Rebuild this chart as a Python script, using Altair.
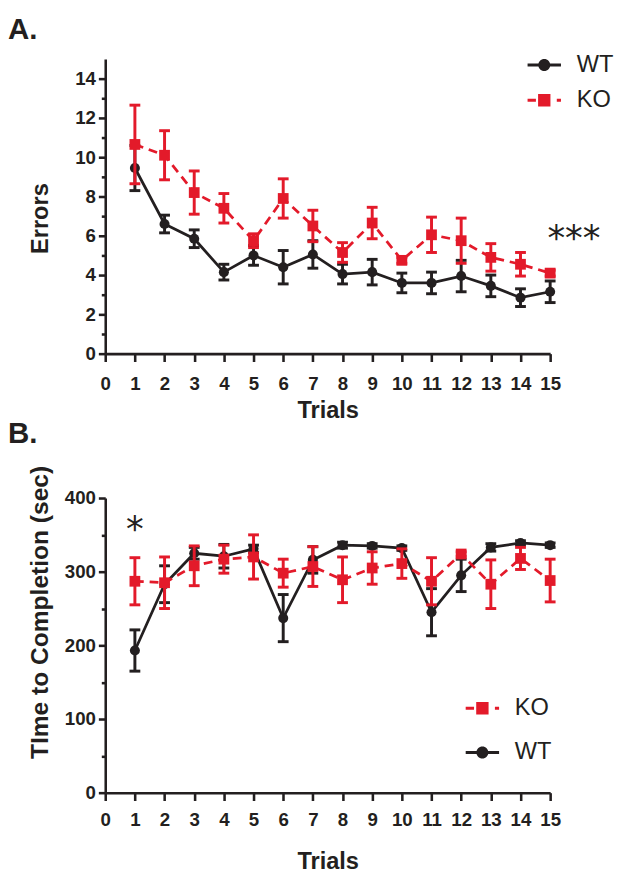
import altair as alt
import pandas as pd

# ---------------- data ----------------
trials = list(range(1, 16))

# Panel A: Errors (mean, SEM)
err_wt_mean = [9.45, 6.6, 5.85, 4.15, 5.0, 4.4, 5.05, 4.05, 4.15, 3.6, 3.6, 3.95, 3.45, 2.85, 3.15]
err_wt_sem = [1.15, 0.45, 0.45, 0.4, 0.5, 0.85, 0.7, 0.5, 0.65, 0.5, 0.55, 0.8, 0.55, 0.45, 0.55]
err_ko_mean = [10.65, 10.1, 8.2, 7.4, 5.75, 7.9, 6.5, 5.15, 6.65, 4.75, 6.05, 5.75, 4.9, 4.55, 4.1]
err_ko_sem = [2.0, 1.25, 1.1, 0.75, 0.35, 1.0, 0.8, 0.5, 0.8, 0.15, 0.9, 1.15, 0.7, 0.6, 0.15]

# Panel B: Time to completion (sec)
time_wt_mean = [193, 283, 325, 321, 331, 237, 316, 336, 335, 332, 245, 295, 333, 339, 336]
time_wt_sem = [28, 25, 8, 16, 5, 32, 18, 4, 3, 3, 32, 22, 5, 3, 3]
time_ko_mean = [287, 285, 308, 317, 320, 298, 307, 289, 305, 311, 287, 324, 283, 318, 288]
time_ko_sem = [32, 35, 27, 19, 30, 19, 27, 31, 22, 20, 32, 3, 33, 15, 29]

star_a_x = [15.8]
star_a_y = [5.3]
star_a_text = ["***"]
star_b_x = [1.0]
star_b_y = [341]
star_b_text = ["*"]

x_ticks = list(range(0, 16))
ya_ticks = list(range(0, 15))
yb_ticks = list(range(0, 401, 50))

BLACK = "#231f20"
RED = "#e31a2a"
FONT = "Liberation Sans"

# legend symbols: line + marker drawn as custom paths in the unit box [-1, 1]
WT_PATH = ("M-1,-0.09H-0.3V0.09H-1Z M0.3,-0.09H1V0.09H0.3Z "
           "M-0.36,0A0.36,0.36 0 1,1 0.36,0A0.36,0.36 0 1,1 -0.36,0Z")
KO_PATH = ("M-1,-0.09H-0.5V0.09H-1Z M-0.37,-0.37H0.37V0.37H-0.37Z "
           "M0.75,-0.09H1V0.09H0.75Z")


def make_df(means, sems, group):
    return pd.DataFrame({
        "trial": trials,
        "mean": means,
        "lo": [m - s for m, s in zip(means, sems)],
        "hi": [m + s for m, s in zip(means, sems)],
        "group": group,
    })


def panel(df_wt, df_ko, stars, y_domain, y_values, major_mod, y_title, y_title_size,
          y_title_y, x_title_y, x_label_pad, order, title_text, title_offset,
          leg_x, leg_y, leg_pad):
    x_axis = alt.Axis(values=x_ticks, tickSize=8, labelPadding=x_label_pad,
                      labelOverlap=False, labelFlush=False,
                      title="Trials", titleY=x_title_y, titleBaseline="alphabetic")
    y_axis = alt.Axis(values=y_values, labelOverlap=False, labelFlush=False,
                      labelExpr=f"datum.value % {major_mod} === 0 ? datum.label : ''",
                      tickSize={"condition": {"test": f"datum.value % {major_mod} === 0", "value": 7}, "value": 4},
                      labelPadding=3, title=y_title, titleX=-59, titleY=y_title_y,
                      titleFontSize=y_title_size,
                      titleBaseline="alphabetic", titleAngle=-90)
    xs = alt.Scale(domain=[0, 15], nice=False)
    ys = alt.Scale(domain=y_domain, nice=False)

    def X(f):
        return alt.X(f"{f}:Q", scale=xs, axis=x_axis, title="Trials")

    def Y(f):
        return alt.Y(f"{f}:Q", scale=ys, axis=y_axis, title=y_title)

    layers = []
    for df, color, shape, size, dash in [
        (df_wt, BLACK, "circle", 105, None),
        (df_ko, RED, "square", 120, [9, 6]),
    ]:
        base = alt.Chart(df)
        layers.append(base.mark_rule(color=color, strokeWidth=3, opacity=1).encode(
            x=X("trial"), y=Y("lo"), y2=alt.Y2("hi:Q")))
        layers.append(base.transform_fold(["lo", "hi"], as_=["end", "val"]).mark_tick(
            orient="horizontal", size=11, thickness=3, color=color, opacity=1).encode(
            x=X("trial"), y=Y("val")))
        line_kw = dict(color=color, strokeWidth=2.8, opacity=1)
        if dash:
            line_kw["strokeDash"] = dash
        layers.append(base.mark_line(**line_kw).encode(x=X("trial"), y=Y("mean")))
        layers.append(base.mark_point(filled=True, shape=shape, size=size, color=color,
                                      opacity=1, strokeWidth=0).encode(
            x=X("trial"), y=Y("mean")))

    layers.append(alt.Chart(stars).mark_text(
        font="DejaVu Sans", fontSize=36, align="center", baseline="alphabetic",
        color=BLACK).encode(x=X("x"), y=Y("y"), text="t:N"))

    leg = alt.Legend(title=None, orient="none", legendX=leg_x, legendY=leg_y,
                     padding=0, symbolSize=1156, symbolStrokeWidth=0, symbolOpacity=1,
                     labelFont=FONT, labelFontSize=24, labelFontWeight="normal",
                     labelColor=BLACK, labelOffset=16, rowPadding=leg_pad)
    both = pd.concat([df_wt, df_ko])
    colors = [BLACK if g == "WT" else RED for g in order]
    paths = [WT_PATH if g == "WT" else KO_PATH for g in order]
    layers.append(alt.Chart(both).mark_point(filled=True, opacity=0).encode(
        x=X("trial"), y=Y("mean"),
        color=alt.Color("group:N", scale=alt.Scale(domain=order, range=colors), legend=leg),
        shape=alt.Shape("group:N", scale=alt.Scale(domain=order, range=paths), legend=leg),
    ))

    return alt.layer(*layers).properties(
        width=453, height=300,
        title=alt.TitleParams(title_text, anchor="start", frame="group", dx=-99,
                              offset=title_offset, baseline="alphabetic",
                              font=FONT, fontSize=30, fontWeight="bold", color=BLACK),
    )


wt_a = make_df(err_wt_mean, err_wt_sem, "WT")
ko_a = make_df(err_ko_mean, err_ko_sem, "KO")
wt_b = make_df(time_wt_mean, time_wt_sem, "WT")
ko_b = make_df(time_ko_mean, time_ko_sem, "KO")
stars_a = pd.DataFrame({"x": star_a_x, "y": star_a_y, "t": star_a_text})
stars_b = pd.DataFrame({"x": star_b_x, "y": star_b_y, "t": star_b_text})

panel_a = panel(wt_a, ko_a, stars_a, [0, 15], ya_ticks, 2, "Errors", 24, 162, 65, 14,
                ["WT", "KO"], "A.", -21, 430, -11, 7)
panel_b = panel(wt_b, ko_b, stars_b, [0, 400], yb_ticks, 100, "TIme to Completion (sec)", 25,
                116, 77, 10, ["KO", "WT"], "B.", -7, 367, 197, 16)

chart = alt.vconcat(panel_a, panel_b, spacing=-4).resolve_scale(
    x="independent", y="independent", color="independent", shape="independent"
).resolve_legend(color="independent", shape="independent").properties(
    padding={"left": 0, "top": 0, "right": 0, "bottom": 0}
).configure_view(stroke=None).configure_axis(
    grid=False, domainColor=BLACK, domainWidth=2.6, tickColor=BLACK, tickWidth=2.6,
    labelFont=FONT, labelFontSize=19, labelFontWeight="bold", labelColor=BLACK,
    titleFont=FONT, titleFontSize=24, titleFontWeight="bold", titleColor=BLACK,
)

chart.save("out.html", embed_options={"renderer": "svg", "actions": False})
